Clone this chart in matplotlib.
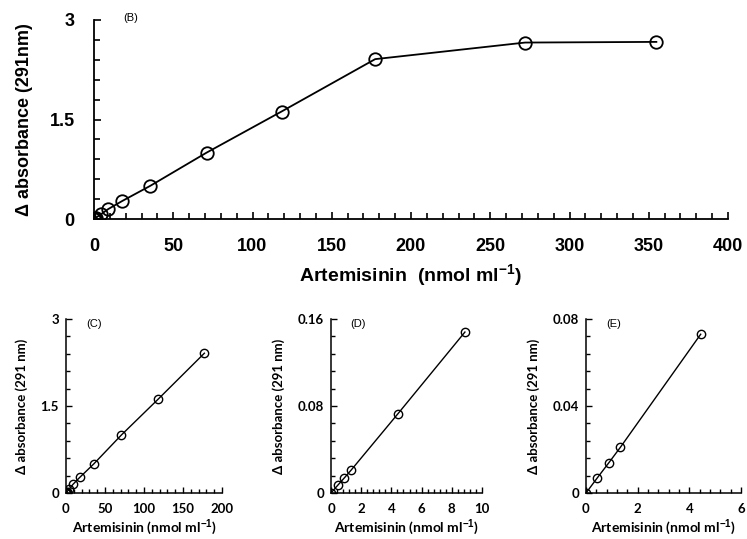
import matplotlib
matplotlib.use('Agg')
import matplotlib.pyplot as plt
from matplotlib.ticker import MultipleLocator

plt.rcParams['mathtext.fontset'] = 'custom'
plt.rcParams['mathtext.bf'] = 'Liberation Sans:bold'
plt.rcParams['mathtext.default'] = 'bf'

# data
conc_all = [0, 0.44, 0.89, 1.33, 4.44, 8.87, 17.7, 35.5, 71.0, 118.3, 177.4, 272.0, 354.8]
abs_all = [0, 0.007, 0.014, 0.021, 0.073, 0.148, 0.27, 0.50, 1.00, 1.62, 2.41, 2.66, 2.67]

conc_c = conc_all[:11]
abs_c = abs_all[:11]
conc_d = conc_all[:6]
abs_d = abs_all[:6]
conc_e = conc_all[:5]
abs_e = abs_all[:5]

fig = plt.figure(figsize=(7.47, 5.39), dpi=100)

# --- panel B ---
ax = fig.add_axes([94/747, 1-219/539, 634/747, 199/539])
ax.plot(conc_all, abs_all, 'k-', lw=1.3, marker='o', mfc='none', mec='k', ms=9, mew=1.3)
ax.set_xlim(0, 400)
ax.set_ylim(0, 3)
ax.set_xticks([0, 50, 100, 150, 200, 250, 300, 350, 400])
ax.set_yticks([0, 1.5, 3])
ax.set_yticklabels(['0', '1.5', '3'])
ax.xaxis.set_minor_locator(MultipleLocator(10))
ax.yaxis.set_minor_locator(MultipleLocator(0.3))
for s in ['top', 'right']:
    ax.spines[s].set_visible(False)
for s in ['left', 'bottom']:
    ax.spines[s].set_linewidth(1.3)
ax.tick_params(which='both', direction='in', width=1.2)
ax.tick_params(which='major', length=5, pad=14)
ax.tick_params(which='minor', length=4)
for lab in ax.get_xticklabels() + ax.get_yticklabels():
    lab.set_family('Liberation Sans')
    lab.set_fontweight('bold')
    lab.set_fontsize(13)
ax.set_xlabel(r'Artemisinin  (nmol ml$^{-1}$)', family='Liberation Sans',
              fontweight='bold', fontsize=14, labelpad=5)
ax.set_ylabel('Δ absorbance (291nm)', family='Liberation Sans',
              fontweight='bold', fontsize=13, labelpad=12)
ax.text(0.046, 1.01, '(B)', transform=ax.transAxes, family='Liberation Sans',
        fontsize=8, va='center')

# --- small panels C, D, E ---
panels = [
    ([66/747, 1-493/539, 156/747, 174/539], conc_c, abs_c, 200, 3,
     [0, 50, 100, 150, 200], [0, 1.5, 3], ['0', '1.5', '3'], 10, 0.3, '(C)'),
    ([331/747, 1-493/539, 151/747, 174/539], conc_d, abs_d, 10, 0.16,
     [0, 2, 4, 6, 8, 10], [0, 0.08, 0.16], ['0', '0.08', '0.16'], 0.4, 0.016, '(D)'),
    ([586/747, 1-493/539, 155/747, 174/539], conc_e, abs_e, 6, 0.08,
     [0, 2, 4, 6], [0, 0.04, 0.08], ['0', '0.04', '0.08'], 0.4, 0.008, '(E)'),
]

for pos, xs, ys, xmax, ymax, xt, yt, ytl, xminor, yminor, tag in panels:
    a = fig.add_axes(pos)
    a.plot(xs, ys, 'k-', lw=1.0, marker='o', mfc='none', mec='k', ms=6, mew=1.0)
    a.set_xlim(0, xmax)
    a.set_ylim(0, ymax)
    a.set_xticks(xt)
    a.set_yticks(yt)
    a.set_yticklabels(ytl)
    a.xaxis.set_minor_locator(MultipleLocator(xminor))
    a.yaxis.set_minor_locator(MultipleLocator(yminor))
    for s in ['top', 'right']:
        a.spines[s].set_visible(False)
    for s in ['left', 'bottom']:
        a.spines[s].set_linewidth(1.1)
    a.tick_params(which='both', direction='in', width=1.0)
    a.tick_params(which='major', length=4, pad=5)
    a.tick_params(axis='x', which='major', pad=7)
    a.tick_params(which='minor', length=3)
    for lab in a.get_xticklabels() + a.get_yticklabels():
        lab.set_family('Lato')
        lab.set_fontweight('bold')
        lab.set_fontsize(9.5)
    a.set_xlabel(r'Artemisinin (nmol ml$^{-1}$)', family='Lato',
                 fontweight='bold', fontsize=10, labelpad=2)
    a.set_ylabel('Δ absorbance (291 nm)', family='Lato',
                 fontweight='bold', fontsize=9.5, labelpad=9)
    a.text(0.13, 0.97, tag, transform=a.transAxes, family='Liberation Sans',
           fontsize=8, va='center')

fig.savefig('out.png', dpi=100)
